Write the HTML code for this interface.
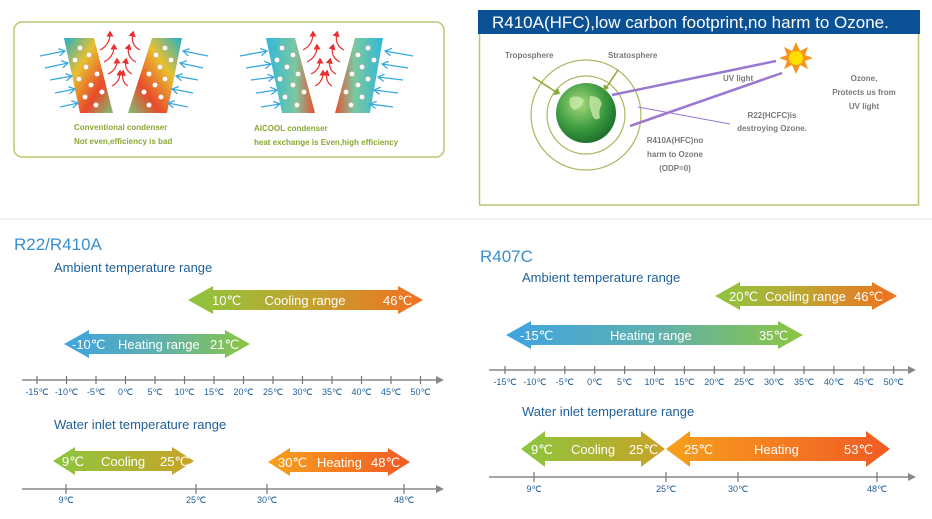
<!DOCTYPE html>
<html><head><meta charset="utf-8"><style>
html,body{margin:0;padding:0;background:#fff;}
svg{display:block;font-family:"Liberation Sans",Arial,sans-serif;}
.tk{font-size:9px;fill:#1f5f99;text-anchor:middle;}
.at{font-size:13px;fill:#c8e0f0;}
.aw{font-size:13px;fill:#fff;}
.g{font-size:8px;font-weight:bold;fill:#7a7a7a;}
.o{font-size:8px;font-weight:bold;fill:#8aa832;}
</style></head><body>
<svg width="932" height="519" viewBox="0 0 932 519" xmlns="http://www.w3.org/2000/svg">
<defs>
<linearGradient id="conv1" x1="0" y1="0" x2="1" y2="1"><stop offset="0" stop-color="#22b0c8"/><stop offset="0.35" stop-color="#e8c030"/><stop offset="0.7" stop-color="#e84a2a"/><stop offset="1" stop-color="#7cc27a"/></linearGradient>
<linearGradient id="conv2" x1="1" y1="0" x2="0" y2="1"><stop offset="0" stop-color="#22b0c8"/><stop offset="0.35" stop-color="#e8c030"/><stop offset="0.7" stop-color="#e84a2a"/><stop offset="1" stop-color="#7cc27a"/></linearGradient>
<linearGradient id="ai1" x1="0" y1="0" x2="1" y2="0"><stop offset="0" stop-color="#30b8d8"/><stop offset="0.6" stop-color="#7cc8a0"/><stop offset="1" stop-color="#e85030"/></linearGradient>
<linearGradient id="ai2" x1="1" y1="0" x2="0" y2="0"><stop offset="0" stop-color="#30b8d8"/><stop offset="0.6" stop-color="#7cc8a0"/><stop offset="1" stop-color="#e85030"/></linearGradient>
<linearGradient id="cool" x1="0" x2="1"><stop offset="0" stop-color="#8cc63f"/><stop offset="0.5" stop-color="#c0a430"/><stop offset="1" stop-color="#f26f21"/></linearGradient>
<linearGradient id="heat" x1="0" x2="1"><stop offset="0" stop-color="#3fa3e0"/><stop offset="0.5" stop-color="#5fb0b0"/><stop offset="1" stop-color="#8cc63f"/></linearGradient>
<linearGradient id="wcool" x1="0" x2="1"><stop offset="0" stop-color="#8cc63f"/><stop offset="1" stop-color="#c9a227"/></linearGradient>
<linearGradient id="wheat" x1="0" x2="1"><stop offset="0" stop-color="#f7a01d"/><stop offset="1" stop-color="#f15a24"/></linearGradient>
<radialGradient id="earth" cx="0.4" cy="0.35" r="0.7"><stop offset="0" stop-color="#a8d878"/><stop offset="0.6" stop-color="#3a9a40"/><stop offset="1" stop-color="#1a6a2a"/></radialGradient>
<marker id="ba" markerWidth="6" markerHeight="6" refX="5" refY="3" orient="auto"><path d="M0,0 L5,3 L0,6" fill="none" stroke="#3aa8e0" stroke-width="1"/></marker>
<marker id="ra" markerWidth="6" markerHeight="6" refX="3" refY="3" orient="auto"><path d="M0,0 L5,3 L0,6 z" fill="#e83030"/></marker>
</defs>

<!-- left top box -->
<rect x="14" y="22" width="430" height="135" rx="8" fill="#fff" stroke="#b8c870" stroke-width="1.5"/>
<polygon points="64,38 94,38 113,113 80,113" fill="url(#conv1)"/>
<polygon points="152,38 182,38 167,113 128,113" fill="url(#conv2)"/>
<polygon points="266,38 295,38 315,113 282,113" fill="url(#ai1)"/>
<polygon points="355,38 383,38 370,113 335,113" fill="url(#ai2)"/>
<g fill="#fff" stroke="#e0b0a0" stroke-width="0.5">
<circle cx="80" cy="48" r="2.5"/><circle cx="89" cy="55" r="2.5"/><circle cx="75" cy="60" r="2.5"/><circle cx="86" cy="67" r="2.5"/><circle cx="97" cy="74" r="2.5"/><circle cx="79" cy="79" r="2.5"/><circle cx="91" cy="85" r="2.5"/><circle cx="102" cy="92" r="2.5"/><circle cx="85" cy="97" r="2.5"/><circle cx="96" cy="105" r="2.5"/>
<circle cx="165" cy="48" r="2.5"/><circle cx="156" cy="55" r="2.5"/><circle cx="171" cy="60" r="2.5"/><circle cx="160" cy="67" r="2.5"/><circle cx="149" cy="74" r="2.5"/><circle cx="165" cy="79" r="2.5"/><circle cx="155" cy="85" r="2.5"/><circle cx="144" cy="92" r="2.5"/><circle cx="161" cy="97" r="2.5"/><circle cx="149" cy="105" r="2.5"/>
<circle cx="282" cy="48" r="2.5"/><circle cx="293" cy="55" r="2.5"/><circle cx="277" cy="60" r="2.5"/><circle cx="287" cy="67" r="2.5"/><circle cx="298" cy="74" r="2.5"/><circle cx="280" cy="79" r="2.5"/><circle cx="293" cy="85" r="2.5"/><circle cx="304" cy="92" r="2.5"/><circle cx="285" cy="97" r="2.5"/><circle cx="297" cy="105" r="2.5"/>
<circle cx="368" cy="48" r="2.5"/><circle cx="358" cy="55" r="2.5"/><circle cx="374" cy="60" r="2.5"/><circle cx="362" cy="67" r="2.5"/><circle cx="352" cy="74" r="2.5"/><circle cx="368" cy="79" r="2.5"/><circle cx="358" cy="85" r="2.5"/><circle cx="346" cy="92" r="2.5"/><circle cx="362" cy="97" r="2.5"/><circle cx="351" cy="105" r="2.5"/>
</g>
<g stroke="#3aa8e0" stroke-width="1.3" marker-end="url(#ba)">
<line x1="40" y1="56" x2="65" y2="51"/><line x1="45" y1="68" x2="68" y2="63"/><line x1="50" y1="80" x2="72" y2="76"/><line x1="55" y1="93" x2="75" y2="89"/><line x1="60" y1="107" x2="78" y2="103"/>
<line x1="208" y1="56" x2="183" y2="51"/><line x1="203" y1="68" x2="180" y2="63"/><line x1="198" y1="80" x2="176" y2="76"/><line x1="193" y1="93" x2="172" y2="89"/><line x1="188" y1="107" x2="168" y2="103"/>
<line x1="240" y1="56" x2="267" y2="51"/><line x1="246" y1="68" x2="271" y2="64"/><line x1="251" y1="80" x2="274" y2="77"/><line x1="256" y1="93" x2="277" y2="90"/><line x1="261" y1="107" x2="280" y2="104"/>
<line x1="413" y1="56" x2="385" y2="51"/><line x1="408" y1="68" x2="382" y2="64"/><line x1="403" y1="80" x2="378" y2="77"/><line x1="398" y1="93" x2="374" y2="90"/><line x1="393" y1="107" x2="370" y2="104"/>
</g>
<g stroke="#e83030" stroke-width="1.2" fill="none" marker-end="url(#ra)">
<path d="M100,50 Q110,45 110,33"/><path d="M104,62 Q114,57 114,46"/><path d="M108,74 Q117,70 117,60"/><path d="M112,86 Q120,82 120,72"/>
<path d="M140,50 Q130,45 133,33"/><path d="M136,62 Q126,57 129,46"/><path d="M132,74 Q124,70 126,60"/><path d="M128,86 Q121,82 123,72"/>
<path d="M303,50 Q313,45 313,33"/><path d="M307,62 Q317,57 317,46"/><path d="M311,74 Q320,70 320,60"/><path d="M315,86 Q323,82 323,72"/>
<path d="M344,50 Q334,45 337,33"/><path d="M340,62 Q330,57 333,46"/><path d="M336,74 Q328,70 330,60"/><path d="M332,86 Q325,82 327,72"/>
</g>
<text x="74" y="130" class="o">Conventional condenser</text>
<text x="74" y="144" class="o">Not even,efficiency is bad</text>
<text x="254" y="131" class="o">AICOOL condenser</text>
<text x="254" y="145" class="o">heat exchange is Even,high efficiency</text>

<!-- right top -->
<rect x="479.5" y="33" width="439" height="172" fill="#fff" stroke="#b8c870" stroke-width="1.5"/>
<rect x="478" y="10" width="442" height="24" fill="#0a5196"/>
<text x="492" y="28" font-size="17" fill="#fff">R410A(HFC),low carbon footprint,no harm to Ozone.</text>
<circle cx="586" cy="115" r="55" fill="none" stroke="#a8b860" stroke-width="1.2"/>
<circle cx="586" cy="115" r="39" fill="none" stroke="#a8b860" stroke-width="1.2"/>
<circle cx="586" cy="113" r="30" fill="url(#earth)"/>
<path d="M570,98 q8,-4 14,2 q-2,8 -10,10 q-6,-4 -4,-12z M590,96 q10,0 12,8 q-4,6 -2,14 q-6,4 -8,-4 q-4,-10 -2,-18z" fill="#c8e8a8" opacity="0.8"/>
<g stroke="#8aa832" stroke-width="1.5"><line x1="533" y1="77" x2="556" y2="92"/><line x1="618" y1="70" x2="606" y2="88"/></g>
<polygon points="553,95 558,88 560,94" fill="#8aa832"/><polygon points="603,91 604,84 609,88" fill="#8aa832"/>
<g stroke="#9a78d0" stroke-width="2.5"><line x1="612" y1="95" x2="776" y2="61"/><line x1="630" y1="126" x2="782" y2="73"/></g>
<line x1="638" y1="107" x2="730" y2="124" stroke="#9a78d0" stroke-width="1"/>
<g transform="translate(796,58)"><polygon points="0,-16 4,-7 12,-11 9,-3 17,0 9,3 12,11 4,7 0,16 -4,7 -12,11 -9,3 -17,0 -9,-3 -12,-11 -4,-7" fill="#f7941d"/><circle r="7" fill="#ffe000"/></g>
<text x="505" y="58" class="g">Troposphere</text>
<text x="608" y="58" class="g">Stratosphere</text>
<text x="723" y="81" class="g">UV light</text>
<text x="864" y="81" class="g" text-anchor="middle">Ozone,</text>
<text x="864" y="95" class="g" text-anchor="middle">Protects us from</text>
<text x="864" y="109" class="g" text-anchor="middle">UV light</text>
<text x="772" y="118" class="g" text-anchor="middle">R22(HCFC)is</text>
<text x="772" y="131" class="g" text-anchor="middle">destroying Ozone.</text>
<text x="675" y="143" class="g" text-anchor="middle">R410A(HFC)no</text>
<text x="675" y="157" class="g" text-anchor="middle">harm to Ozone</text>
<text x="675" y="171" class="g" text-anchor="middle">(ODP=0)</text>

<line x1="0" y1="219" x2="932" y2="219" stroke="#e4e4e4" stroke-width="1"/>

<!-- bottom left -->
<text x="14" y="250" font-size="17" fill="#3a8fd0">R22/R410A</text>
<text x="54" y="272" font-size="13" fill="#1f5f99">Ambient temperature range</text>
<polygon points="188,300 213,286 213,290 398,290 398,286 423,300 398,314 398,310 213,310 213,314" fill="url(#cool)"/>
<text x="212" y="305" class="aw">10℃</text><text x="305" y="305" class="aw" text-anchor="middle">Cooling range</text><text x="383" y="305" class="aw">46℃</text>
<polygon points="64,344 89,330 89,334 225,334 225,330 250,344 225,358 225,354 89,354 89,358" fill="url(#heat)"/>
<text x="72" y="349" class="aw">-10℃</text><text x="118" y="349" class="aw">Heating range</text><text x="210" y="349" class="aw">21℃</text>
<line x1="22" y1="380" x2="436" y2="380" stroke="#888" stroke-width="1.5"/><polygon points="436,376 444,380 436,384" fill="#888"/>
<g stroke="#777" stroke-width="1.2"><line x1="37" y1="376" x2="37" y2="384"/><line x1="66.5" y1="376" x2="66.5" y2="384"/><line x1="96" y1="376" x2="96" y2="384"/><line x1="125.5" y1="376" x2="125.5" y2="384"/><line x1="155" y1="376" x2="155" y2="384"/><line x1="184.5" y1="376" x2="184.5" y2="384"/><line x1="214" y1="376" x2="214" y2="384"/><line x1="243.5" y1="376" x2="243.5" y2="384"/><line x1="273" y1="376" x2="273" y2="384"/><line x1="302.5" y1="376" x2="302.5" y2="384"/><line x1="332" y1="376" x2="332" y2="384"/><line x1="361.5" y1="376" x2="361.5" y2="384"/><line x1="391" y1="376" x2="391" y2="384"/><line x1="420.5" y1="376" x2="420.5" y2="384"/></g>
<g class="tk"><text x="37" y="395" class="tk">-15℃</text><text x="66.5" y="395" class="tk">-10℃</text><text x="96" y="395" class="tk">-5℃</text><text x="125.5" y="395" class="tk">0℃</text><text x="155" y="395" class="tk">5℃</text><text x="184.5" y="395" class="tk">10℃</text><text x="214" y="395" class="tk">15℃</text><text x="243.5" y="395" class="tk">20℃</text><text x="273" y="395" class="tk">25℃</text><text x="302.5" y="395" class="tk">30℃</text><text x="332" y="395" class="tk">35℃</text><text x="361.5" y="395" class="tk">40℃</text><text x="391" y="395" class="tk">45℃</text><text x="420.5" y="395" class="tk">50℃</text></g>

<text x="54" y="429" font-size="13" fill="#1f5f99">Water inlet temperature range</text>
<polygon points="53,461 75,447 75,451 172,451 172,447 194,461 172,475 172,471 75,471 75,475" fill="url(#wcool)"/>
<text x="62" y="466" class="aw">9℃</text><text x="101" y="466" class="aw">Cooling</text><text x="160" y="466" class="aw">25℃</text>
<polygon points="268,462 290,448 290,452 388,452 388,448 410,462 388,476 388,472 290,472 290,476" fill="url(#wheat)"/>
<text x="278" y="467" class="aw">30℃</text><text x="317" y="467" class="aw">Heating</text><text x="371" y="467" class="aw">48℃</text>
<line x1="22" y1="489" x2="436" y2="489" stroke="#888" stroke-width="1.5"/><polygon points="436,485 444,489 436,493" fill="#888"/>
<g stroke="#777" stroke-width="1.2"><line x1="66" y1="484" x2="66" y2="494"/><line x1="196" y1="484" x2="196" y2="494"/><line x1="267" y1="484" x2="267" y2="494"/><line x1="404" y1="484" x2="404" y2="494"/></g>
<text x="66" y="503" class="tk">9℃</text><text x="196" y="503" class="tk">25℃</text><text x="267" y="503" class="tk">30℃</text><text x="404" y="503" class="tk">48℃</text>

<!-- bottom right -->
<text x="480" y="262" font-size="17" fill="#3a8fd0">R407C</text>
<text x="522" y="282" font-size="13" fill="#1f5f99">Ambient temperature range</text>
<polygon points="715,296 740,282 740,286 872,286 872,282 897,296 872,310 872,306 740,306 740,310" fill="url(#cool)"/>
<text x="729" y="301" class="aw">20℃</text><text x="765" y="301" class="aw">Cooling range</text><text x="854" y="301" class="aw">46℃</text>
<polygon points="506,335 531,321 531,325 778,325 778,321 803,335 778,349 778,345 531,345 531,349" fill="url(#heat)"/>
<text x="520" y="340" class="aw">-15℃</text><text x="610" y="340" class="aw">Heating range</text><text x="759" y="340" class="aw">35℃</text>
<line x1="489" y1="370" x2="908" y2="370" stroke="#888" stroke-width="1.5"/><polygon points="908,366 916,370 908,374" fill="#888"/>
<g stroke="#777" stroke-width="1.2"><line x1="505" y1="366" x2="505" y2="374"/><line x1="534.9" y1="366" x2="534.9" y2="374"/><line x1="564.8" y1="366" x2="564.8" y2="374"/><line x1="594.7" y1="366" x2="594.7" y2="374"/><line x1="624.6" y1="366" x2="624.6" y2="374"/><line x1="654.5" y1="366" x2="654.5" y2="374"/><line x1="684.4" y1="366" x2="684.4" y2="374"/><line x1="714.3" y1="366" x2="714.3" y2="374"/><line x1="744.2" y1="366" x2="744.2" y2="374"/><line x1="774.1" y1="366" x2="774.1" y2="374"/><line x1="804" y1="366" x2="804" y2="374"/><line x1="833.9" y1="366" x2="833.9" y2="374"/><line x1="863.8" y1="366" x2="863.8" y2="374"/><line x1="893.7" y1="366" x2="893.7" y2="374"/></g>
<text x="505" y="385" class="tk">-15℃</text><text x="534.9" y="385" class="tk">-10℃</text><text x="564.8" y="385" class="tk">-5℃</text><text x="594.7" y="385" class="tk">0℃</text><text x="624.6" y="385" class="tk">5℃</text><text x="654.5" y="385" class="tk">10℃</text><text x="684.4" y="385" class="tk">15℃</text><text x="714.3" y="385" class="tk">20℃</text><text x="744.2" y="385" class="tk">25℃</text><text x="774.1" y="385" class="tk">30℃</text><text x="804" y="385" class="tk">35℃</text><text x="833.9" y="385" class="tk">40℃</text><text x="863.8" y="385" class="tk">45℃</text><text x="893.7" y="385" class="tk">50℃</text>

<text x="522" y="416" font-size="13" fill="#1f5f99">Water inlet temperature range</text>
<polygon points="521,449 545,431 545,437 641,437 641,431 665,449 641,467 641,461 545,461 545,467" fill="url(#wcool)"/>
<text x="531" y="454" class="aw">9℃</text><text x="571" y="454" class="aw">Cooling</text><text x="629" y="454" class="aw">25℃</text>
<polygon points="666,449 690,431 690,437 866,437 866,431 890,449 866,467 866,461 690,461 690,467" fill="url(#wheat)"/>
<text x="684" y="454" class="aw">25℃</text><text x="754" y="454" class="aw">Heating</text><text x="844" y="454" class="aw">53℃</text>
<line x1="489" y1="477" x2="908" y2="477" stroke="#888" stroke-width="1.5"/><polygon points="908,473 916,477 908,481" fill="#888"/>
<g stroke="#777" stroke-width="1.2"><line x1="534" y1="472" x2="534" y2="482"/><line x1="666" y1="472" x2="666" y2="482"/><line x1="738" y1="472" x2="738" y2="482"/><line x1="877" y1="472" x2="877" y2="482"/></g>
<text x="534" y="492" class="tk">9℃</text><text x="666" y="492" class="tk">25℃</text><text x="738" y="492" class="tk">30℃</text><text x="877" y="492" class="tk">48℃</text>
</svg>
</body></html>
